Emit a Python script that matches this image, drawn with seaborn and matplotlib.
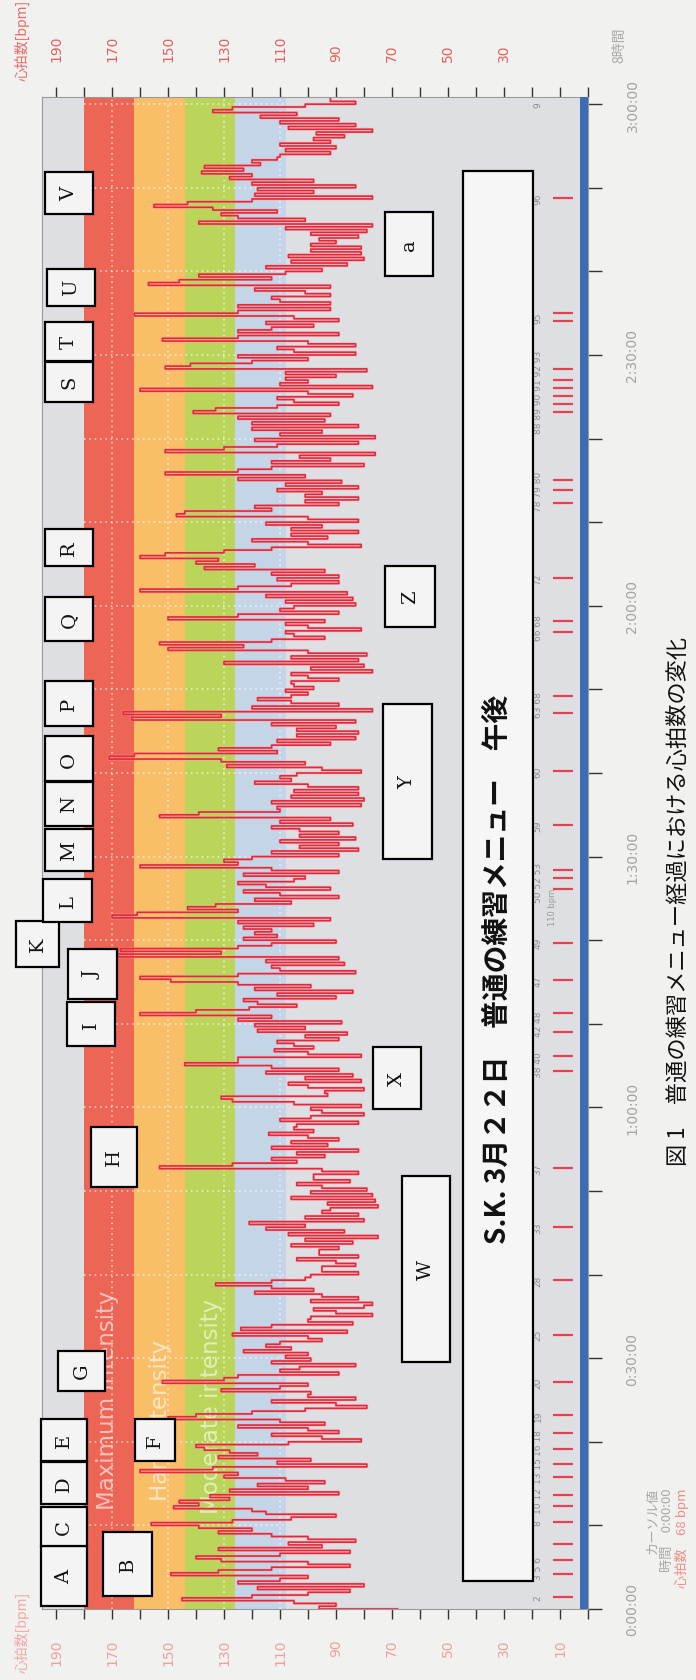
import numpy as np
import pandas as pd
import seaborn as sns
import matplotlib
matplotlib.use("Agg")
import matplotlib.pyplot as plt
from matplotlib.patches import Rectangle

# ---------------- data ----------------
SAMPLE_MINUTES = 1 / 3          # one heart-rate reading every 20 s

hr_00_26 = [68, 96, 90, 105, 145, 120, 100, 85, 118, 80, 125, 110, 100, 149, 132,
            113, 85, 100, 131, 140, 110, 85, 132, 95, 107, 83, 100, 113, 132, 120,
            139, 156, 127, 106, 90, 115, 120, 148, 139, 146, 128, 135, 89, 128, 100,
            118, 94, 108, 130, 125, 160, 134, 79, 111, 99, 132, 118, 128, 137, 140,
            107, 81, 95, 113, 89, 100, 125, 94, 110, 150, 140, 120, 101, 79, 90,
            113, 83, 100]
hr_26_58 = [99, 131, 110, 100, 152, 130, 125, 89, 110, 103, 83, 113, 99, 108, 100,
            123, 106, 115, 110, 95, 100, 127, 86, 124, 113, 84, 100, 99, 77, 90,
            98, 80, 77, 99, 82, 95, 119, 98, 113, 133, 113, 101, 99, 82, 95,
            95, 83, 90, 104, 82, 96, 96, 89, 106, 84, 101, 75, 107, 87, 115,
            101, 121, 80, 101, 82, 95, 92, 75, 93, 76, 106, 77, 99, 79, 95,
            104, 85, 98, 98, 82, 95, 153, 127, 104, 113, 94, 104, 82, 113, 93,
            106, 89, 100, 114, 98, 105]
hr_58_89 = [104, 82, 110, 99, 80, 95, 99, 81, 105, 127, 131, 93, 94, 80, 100,
            107, 81, 101, 84, 115, 89, 113, 144, 125, 125, 81, 100, 112, 98, 105,
            111, 89, 101, 86, 118, 101, 119, 88, 125, 113, 160, 140, 121, 104, 118,
            123, 90, 111, 84, 119, 99, 125, 149, 160, 125, 83, 110, 113, 87, 115,
            89, 168, 131, 167, 125, 113, 90, 123, 111, 119, 113, 123, 98, 125, 92,
            170, 161, 125, 143, 133, 106, 119, 89, 110, 123, 92, 115, 125, 105, 101,
            123, 89, 113]
hr_89_120 = [160, 125, 130, 120, 89, 113, 82, 103, 89, 110, 83, 103, 89, 103, 113,
             84, 110, 92, 153, 139, 110, 111, 81, 113, 80, 106, 82, 105, 82, 100,
             119, 106, 110, 104, 81, 95, 129, 101, 131, 171, 162, 111, 132, 113, 92,
             111, 83, 104, 82, 104, 90, 113, 83, 163, 131, 166, 77, 120, 89, 106,
             118, 106, 100, 108, 98, 105, 106, 89, 100, 106, 77, 99, 80, 130, 82,
             106, 79, 100, 150, 123, 153, 113, 94, 105, 108, 81, 100, 108, 94, 150,
             125, 89, 110]
hr_120_151 = [105, 83, 108, 84, 115, 86, 160, 125, 106, 89, 111, 89, 113, 94, 137,
              119, 140, 132, 160, 151, 130, 113, 81, 100, 120, 93, 106, 82, 106, 95,
              115, 82, 100, 147, 144, 113, 119, 89, 101, 82, 101, 95, 111, 82, 108,
              88, 125, 101, 151, 125, 113, 80, 113, 92, 103, 76, 151, 130, 111, 82,
              119, 76, 110, 95, 120, 82, 120, 94, 125, 92, 141, 133, 111, 89, 105,
              111, 84, 100, 160, 77, 110, 100, 108, 90, 108, 79, 151, 142, 120, 100,
              125, 83, 105]
hr_151_181 = [111, 83, 100, 152, 125, 89, 125, 113, 98, 115, 89, 105, 162, 125, 92,
              125, 92, 110, 113, 92, 101, 119, 92, 157, 146, 113, 139, 108, 95, 115,
              86, 106, 80, 107, 81, 99, 81, 99, 90, 96, 82, 99, 79, 108, 77,
              139, 101, 125, 131, 111, 134, 155, 143, 120, 77, 119, 98, 118, 83, 120,
              98, 128, 120, 138, 123, 137, 117, 120, 111, 110, 92, 108, 90, 110, 92,
              98, 87, 97, 77, 107, 83, 110, 89, 117, 104, 134, 127, 101, 83, 92]

zone_names = ["Maximum intensity", "Hard intensity", "Moderate intensity", "Light intensity"]
zone_upper = [180, 162, 144, 126]
zone_lower = [162, 144, 126, 108]

lap_minutes = [1.4, 4.2, 5.9, 7.8, 10.4, 12.3, 13.6, 15.8, 17.4, 19.1, 21.0, 23.2,
               27.1, 32.8, 39.3, 45.7, 52.7, 64.3, 66.2, 69.0, 71.3, 75.2, 79.7,
               86.1, 87.4, 88.4, 93.8, 100.2, 107.2, 109.2, 116.9, 118.2, 123.3,
               132.3, 133.8, 135.1, 143.2, 144.1, 145.1, 146.1, 147.0, 148.3,
               154.1, 155.0, 168.8]
# lap numbers as printed (close laps share one printed group)
lap_label_minutes = [1.4, 5.0, 10.4, 13.0, 16.6, 20.0, 23.2, 27.1, 32.8, 39.3, 45.7,
                     52.7, 65.2, 70.1, 75.2, 79.7, 87.0, 93.8, 100.2, 108.2, 117.5,
                     123.3, 133.7, 145.7, 154.5, 168.8, 180.0]
lap_label_texts = ["2", "3 5 6", "8", "10 12", "13 15", "16 18", "19", "20", "25", "28",
                   "33", "37", "38 40", "42 48", "47", "49", "50 52 53", "59", "60",
                   "63 68", "66 68", "72", "78 79 80", "88 89 90 91 92 93", "95",
                   "96", "9"]

hr_tick_values = [190, 170, 150, 130, 110, 90, 70, 50, 30, 10]
time_tick_minutes = [0, 30, 60, 90, 120, 150, 180]
time_tick_labels = ["0:00:00", "0:30:00", "1:00:00", "1:30:00", "2:00:00", "2:30:00", "3:00:00"]

title_text = "S.K. 3月２２日　普通の練習メニュー　午後"
caption_text = "図 1　普通の練習メニュー経過における心拍数の変化"
axis_name = "心拍数[bpm]"
cursor_lines = ["カーソル値", "時間　0:00:00", "心拍数　68 bpm"]
cursor_bpm_text = "110 bpm"

# ---------------- layout (not data) ----------------
# letter boxes: (letter, hr at left edge, hr at right edge, minute at bottom, minute at top)
letter_boxes = [
    ("A", 195.4, 178.9, 0.3, 7.5), ("B", 173.2, 155.7, 1.6, 9.2),
    ("C", 195.4, 178.9, 7.5, 12.2), ("D", 195.4, 178.9, 12.6, 17.6),
    ("E", 195.4, 178.9, 17.7, 22.7), ("F", 161.8, 147.5, 17.7, 22.7),
    ("G", 189.3, 172.5, 26.1, 30.9), ("H", 177.5, 161.1, 50.5, 57.7),
    ("I", 186.1, 168.9, 67.3, 72.6), ("J", 185.7, 168.2, 73.0, 78.9),
    ("K", 204.3, 188.9, 76.8, 82.3), ("L", 194.6, 177.1, 82.2, 87.3),
    ("M", 193.9, 176.8, 88.3, 93.3), ("N", 193.9, 176.8, 93.7, 98.9),
    ("O", 193.9, 176.8, 99.0, 104.4), ("P", 193.9, 176.8, 105.6, 111.0),
    ("Q", 193.9, 176.8, 115.8, 121.1), ("R", 193.9, 176.8, 124.8, 129.2),
    ("S", 193.9, 176.8, 144.4, 149.2), ("T", 193.9, 176.8, 149.3, 153.9),
    ("U", 193.2, 176.1, 155.9, 160.3), ("V", 193.9, 176.8, 166.9, 171.9),
    ("W", 66.4, 49.3, 29.5, 51.8), ("X", 76.8, 59.6, 59.8, 67.2),
    ("Y", 73.2, 55.7, 89.7, 108.3), ("Z", 72.5, 54.6, 117.5, 124.8),
    ("a", 72.5, 55.4, 159.4, 167.1),
]
title_box = (44.6, 19.6, 3.3, 172.0)

W, H = 696, 1681
def fx(px):
    return px / W
def fy(py):
    return 1 - py / H

sns.set_theme(style="white")
plt.rcParams['font.family'] = ['DejaVu Sans', 'Noto Sans CJK JP']
cjk = ['Noto Sans CJK JP', 'DejaVu Sans']

paper = '#f1f1ef'
fig = plt.figure(figsize=(W / 100, H / 100), dpi=100, facecolor=paper)
ax = fig.add_axes([fx(42), fy(1610), (588 - 42) / W, (1610 - 98) / H])
ax.set_facecolor('#dddfe3')
ax.set_xlim(195, 0)
ax.set_ylim(0, 180.86)

zone_colors = ['#ec6555', '#f9bf68', '#bad55a', '#c4d5e8']
for lo, hi, c in zip(zone_lower, zone_upper, zone_colors):
    ax.axvspan(lo, hi, color=c, lw=0, zorder=0.5)

# dotted white grid inside coloured zones
for v in [170, 150, 130, 110]:
    ax.plot([v, v], [0, 180.86], color='white', lw=1.1, ls=(0, (1, 2.5)), alpha=0.75, zorder=0.8)
for m in range(10, 181, 10):
    ax.plot([180, 108], [m, m], color='white', lw=1.1, ls=(0, (1, 2.5)), alpha=0.75, zorder=0.8)

# zone names
zone_text_pos = [(171.5, 12.0), (152.5, 13.0), (134.5, 11.5)]
for name, (xv, yv) in zip(zone_names[:3], zone_text_pos):
    ax.text(xv, yv, name, rotation=90, ha='center', va='bottom', color='white',
            alpha=0.6, fontsize=16.5, zorder=0.9)

# heart-rate trace (step drawing: each HR jump is a horizontal stroke)
hr = np.array(hr_00_26 + hr_26_58 + hr_58_89 + hr_89_120 + hr_120_151 + hr_151_181, dtype=float)
df = pd.DataFrame({"hr": hr, "minute": np.arange(len(hr)) * SAMPLE_MINUTES})
sns.lineplot(data=df, x="hr", y="minute", orient="y", sort=False, estimator=None,
             drawstyle='steps-post', color='#f4a0a6', lw=2.2, alpha=0.5, ax=ax, zorder=2)
sns.lineplot(data=df, x="hr", y="minute", orient="y", sort=False, estimator=None,
             drawstyle='steps-post', color='#e4283a', lw=1.2, ax=ax, zorder=3)

# time strip on the right
ax.axvspan(0, 3, color='#3c6db4', lw=0, zorder=4)

# laps
ax.hlines(lap_minutes, 5.5, 12.5, color='#e8404c', lw=1.6, zorder=4)
for m, lab in zip(lap_label_minutes, lap_label_texts):
    ax.text(17.8, m, lab, rotation=90, ha='center', va='center', fontsize=6.5,
            color='#8c8c8c', zorder=4)
ax.text(12.6, 84.0, cursor_bpm_text, rotation=90, ha='center', va='center',
        fontsize=6, color='#9a9a9a', zorder=4)

# title box
tl, tr, tb, tt = title_box
ax.add_patch(Rectangle((tr, tb), tl - tr, tt - tb, facecolor='#f6f6f6',
                       edgecolor='black', lw=1.6, zorder=5))
ax.text((tl + tr) / 2, 76.6, title_text, rotation=90, ha='center', va='center',
        fontsize=20, fontweight='bold', family=cjk, color='#111111', zorder=6)

# letter boxes
for lab, hl, hrr, tb, tt in letter_boxes:
    ax.add_patch(Rectangle((hrr, tb), hl - hrr, tt - tb, facecolor='#f4f4f4',
                           edgecolor='black', lw=1.6, zorder=5, clip_on=False))
    ax.text((hl + hrr) / 2, (tb + tt) / 2, lab, rotation=90, ha='center', va='center',
            fontsize=14, family='DejaVu Serif', color='#111111', zorder=6, clip_on=False)

# axes, ticks
for s in ax.spines.values():
    s.set_color('#9a9a9a')
    s.set_linewidth(0.8)

ax.set_xticks(hr_tick_values)
ax.set_xticks(np.arange(0, 191, 10), minor=True)
ax.set_xticklabels([str(v) for v in hr_tick_values])
ax.tick_params(axis='x', which='both', bottom=True, top=False, direction='out',
               length=7, width=1, color='#333333', labelrotation=90, labelsize=10,
               labelcolor='#f0a09c', pad=14)

sec = ax.secondary_xaxis('top')
sec.set_xticks(hr_tick_values[:-1])
sec.set_xticks(np.arange(0, 191, 10), minor=True)
sec.set_xticklabels([str(v) for v in hr_tick_values[:-1]])
sec.tick_params(axis='x', which='both', direction='out', length=7, width=1,
                color='#333333', labelrotation=90, labelsize=10, labelcolor='#e4605a', pad=19)
sec.spines['top'].set_visible(False)

ax.yaxis.tick_right()
ax.set_yticks(time_tick_minutes)
ax.set_yticks(range(0, 181, 10), minor=True)
ax.set_yticklabels(time_tick_labels)
ax.tick_params(axis='y', which='both', right=True, left=False, direction='out',
               length=10, width=1, color='#333333', labelsize=10,
               labelcolor='#a3a3a3', pad=17)
for t in ax.get_yticklabels():
    t.set_rotation(90)
    t.set_va('center')
ax.set_xlabel('')
ax.set_ylabel('')

# texts around the chart
fig.text(fx(22), fy(40), axis_name, rotation=90, ha='center', va='center',
         fontsize=10, color='#e86a64', family=cjk)
fig.text(fx(22), fy(1632), axis_name, rotation=90, ha='center', va='center',
         fontsize=10, color='#f0a8a4', family=cjk)
fig.text(fx(619), fy(45), "8時間", rotation=90, ha='center', va='center',
         fontsize=10, color='#a8a8a8', family=cjk)
fig.text(fx(678), fy(901), caption_text, rotation=90, ha='center', va='center',
         fontsize=16, color='#111111', family=cjk)
cur_x = [653, 667, 682]
cur_c = ['#a8a8a8', '#a8a8a8', '#f08c86']
for txt, xx, cc in zip(cursor_lines, cur_x, cur_c):
    fig.text(fx(xx), fy(1488), txt, rotation=90, ha='center', va='top',
             fontsize=9.5, color=cc, family=cjk)

fig.savefig("out.png", dpi=100, facecolor=paper)
